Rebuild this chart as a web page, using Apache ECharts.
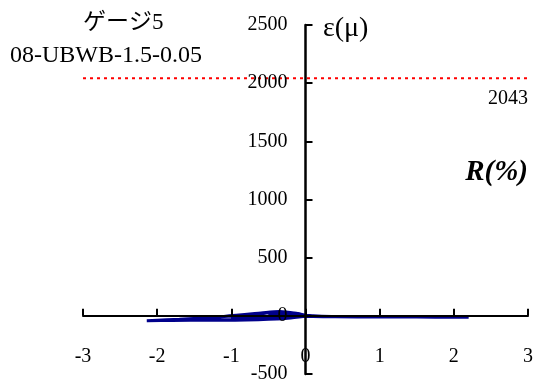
<!DOCTYPE html>
<html><head><meta charset="utf-8">
<script src="https://cdn.jsdelivr.net/npm/echarts@6/dist/echarts.min.js"></script>
<style>html,body{margin:0;padding:0;background:#fff}#c{width:537px;height:387px}</style>
</head><body><div id="c"></div>
<script>
const rotation = [0,0.1,0.25,0.5,0.3,0,-0.2,-0.4,-0.5,-0.3,-0.1,0,0.3,0.6,0.8,1.0,0.6,0.2,0,-0.3,-0.6,-0.8,-1.0,-0.7,-0.45,-0.2,0,0.4,0.8,1.2,1.5,1.1,0.6,0.1,0,-0.4,-0.8,-1.2,-1.5,-1.1,-0.6,-0.35,-0.1,0,0.5,1.0,1.5,2.0,2.2,1.7,1.0,0.4,0.05,-0.3,-0.8,-1.3,-1.8,-2.14,-1.7,-1.2,-0.7,-0.4,-0.15,0];
const strain = [0,-3,-6,-8,-6,-2,5,10,8,20,18,4,-6,-8,-9,-9,-8,-6,0,-10,-20,-25,-30,5,30,22,6,-7,-9,-10,-11,-10,-8,-6,0,-15,-30,-35,-38,-5,25,38,20,5,-8,-10,-11,-12,-12,-11,-10,-8,-4,-25,-35,-38,-40,-42,-30,-10,10,30,25,5];
const refLine = [-3,3];
const refValue = 2043;
const xTicks = {min:-3,max:3,interval:1};
const yTicks = {min:-500,max:2500,interval:500};

const font = 'Liberation Serif';
const G = {left:83,right:9,top:25,bottom:13};
const W = 537, H = 387;
const gw = W-G.left-G.right, gh = H-G.top-G.bottom;
// place axis lines where the other axis is zero
const yAxisOffset = -gw*(0-xTicks.min)/(xTicks.max-xTicks.min);
const xAxisOffset = -gh*(0-yTicks.min)/(yTicks.max-yTicks.min);
const chart = echarts.init(document.getElementById('c'));
chart.setOption({
  animation:false,
  grid:Object.assign({containLabel:false,outerBoundsMode:'none'},G),
  xAxis:{type:'value',z:5,min:xTicks.min,max:xTicks.max,interval:xTicks.interval,position:'bottom',offset:xAxisOffset,
    axisLine:{onZero:false,lineStyle:{color:'#000',width:2}},
    axisTick:{inside:true,length:7,lineStyle:{color:'#000',width:2}},
    splitLine:{show:false},
    axisLabel:{margin:31,color:'#000',fontFamily:font,fontSize:20,formatter:v=>String(v)}},
  yAxis:{type:'value',z:5,min:yTicks.min,max:yTicks.max,interval:yTicks.interval,position:'left',offset:yAxisOffset,
    axisLine:{onZero:false,lineStyle:{color:'#000',width:2.5}},
    axisTick:{inside:true,length:7,lineStyle:{color:'#000',width:2}},
    splitLine:{show:false},
    axisLabel:{margin:18,color:'#000',fontFamily:font,fontSize:20,padding:[5,0,0,0],formatter:v=>String(v)}},
  series:[
    {type:'line',z:2,data:refLine.map(x=>[x,refValue]),symbol:'none',silent:true,
      lineStyle:{color:'#ff0000',width:2,type:[3,4]}},
    {type:'line',z:2,data:rotation.map((r,i)=>[r,strain[i]]),symbol:'none',smooth:0.3,
      lineStyle:{color:'#00008b',width:3}}
  ],
  graphic:[
    {type:'text',left:83,top:11,style:{text:'ゲージ5',font:'23px "Liberation Serif", "Noto Sans CJK JP"',fill:'#000'}},
    {type:'text',left:10,top:44,style:{text:'08-UBWB-1.5-0.05',font:'24px "Liberation Serif"',fill:'#000'}},
    {type:'text',left:323,top:15,style:{text:'ε(μ)',font:'28px "Liberation Serif"',fill:'#000'}},
    {type:'text',right:9,top:89,style:{text:'2043',font:'20px "Liberation Serif"',fill:'#000'}},
    {type:'text',right:9,top:158,style:{text:'R(%)',font:'italic bold 29px "Liberation Serif"',fill:'#000'}}
  ]
});
</script></body></html>
